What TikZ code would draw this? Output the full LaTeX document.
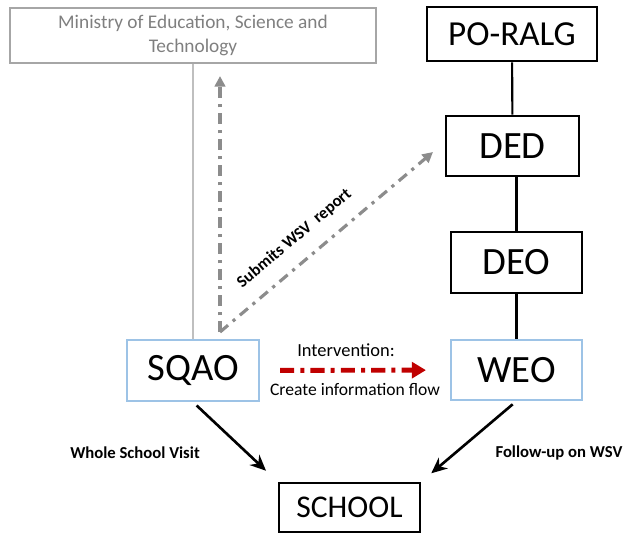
\documentclass[tikz,border=0pt]{standalone}
\usepackage{fontspec}
\setmainfont{Carlito}
\usetikzlibrary{arrows.meta}
\definecolor{boxblue}{HTML}{9DC3E6}
\definecolor{ministrygray}{HTML}{A6A6A6}
\definecolor{textgray}{HTML}{7F7F7F}
\definecolor{reportgray}{HTML}{8C8C8C}
\definecolor{flowred}{HTML}{C00000}
\begin{document}
\begin{tikzpicture}[x=0.02cm,y=-0.02cm,
  office/.style={draw=black,line width=1.5pt,align=center,inner sep=0pt},
  field/.style={draw=boxblue,line width=1.2pt,align=center,inner sep=0pt,font=\fontsize{22}{24}\selectfont},
  report/.style={draw=reportgray,line width=1.8pt,dash pattern=on 6pt off 3.5pt on 1.8pt off 3.5pt,-{Triangle[length=6pt,width=6pt]}},
  visit/.style={line width=1.5pt,-{Stealth[length=9pt,width=8pt]}},
  small/.style={font=\fontsize{9.5}{11}\selectfont\bfseries}]
\useasboundingbox (0,0) rectangle (626,535);

% the ministry at the top left
\node[draw=ministrygray,line width=1.2pt,text=textgray,align=center,
  minimum width=366*0.02cm,minimum height=55*0.02cm,font=\fontsize{11}{13.5}\selectfont]
  (ministry) at (193,35.5) {Ministry of Education, Science and\\Technology};

% the local government chain
\node[office,minimum width=170*0.02cm,minimum height=54*0.02cm,font=\fontsize{20}{22}\selectfont]
  (poralg) at (512,34) {PO-RALG};
\node[office,minimum width=133*0.02cm,minimum height=60*0.02cm,font=\fontsize{22}{24}\selectfont]
  (ded) at (512.5,146) {DED};
\node[office,minimum width=131*0.02cm,minimum height=61*0.02cm,font=\fontsize{22}{24}\selectfont]
  (deo) at (516.5,262.5) {DEO};
\node[field,minimum width=131*0.02cm,minimum height=60*0.02cm] (weo) at (516.5,370) {WEO};
\node[field,minimum width=132*0.02cm,minimum height=61*0.02cm] (sqao) at (193,370.5) {SQAO};
\node[office,minimum width=141*0.02cm,minimum height=49*0.02cm,font=\fontsize{18}{20}\selectfont]
  (school) at (349.5,507.5) {SCHOOL};

% plain links
\draw[line width=1.2pt] (poralg) -- (ded);
\draw[line width=1.2pt] (ded.south -| deo) -- (deo);
\draw[line width=1.2pt] (deo) -- (weo);
\draw[line width=1.2pt,black!25] (ministry) -- (sqao);

% the report arrows
\coordinate (corner) at (220,332);
\coordinate (target) at (433,152);
\draw[report,shorten >=12*0.02cm] (corner) -- (corner |- ministry.south);
\draw[report] (corner) -- node[pos=0.42,sloped,above=5pt,small,text=black] {Submits WSV\ \ report} (target);

% the intervention
\draw[flowred,line width=2.8pt,dash pattern=on 8pt off 3.5pt on 2.3pt off 3.5pt,
  -{Triangle[length=8pt,width=9pt]},shorten <=20*0.02cm,shorten >=24*0.02cm]
  (sqao) -- node[above=3pt,text=black,font=\fontsize{10.5}{12}\selectfont,xshift=-9*0.02cm] {Intervention:}
            node[below=3pt,text=black,font=\fontsize{10}{12}\selectfont] {Create information flow} (weo);

% visits to the school
\draw[visit,shorten <=5*0.02cm,shorten >=16*0.02cm] (sqao.south) -- (school.north west);
\draw[visit,shorten <=5*0.02cm,shorten >=13*0.02cm] (weo.south) -- (school.north east);
\node[small] (wsvlabel) at (135,453) {Whole School Visit};
\node[small] (followlabel) at (559,453) {Follow-up on WSV};
\end{tikzpicture}
\end{document}
